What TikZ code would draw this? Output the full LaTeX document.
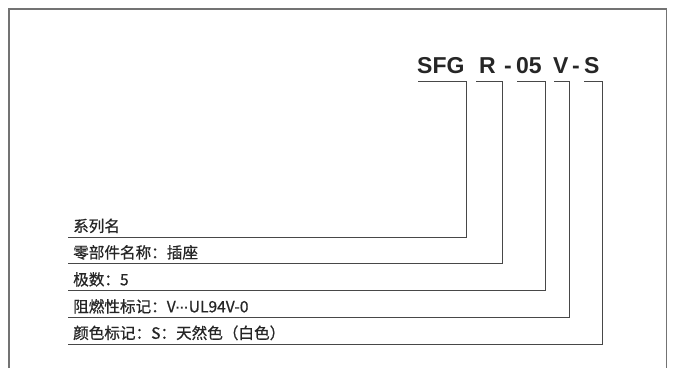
\documentclass[tikz,border=0pt]{standalone}
\usepackage{fontspec}
\setmainfont{Liberation Sans}
\newfontfamily\cjk[FakeBold=0.7]{Noto Sans CJK SC}
\newcommand\middots{{\fontspec{Liberation Sans}\fontsize{13}{13}\selectfont\textbf{···}}}
\begin{document}
\begin{tikzpicture}[x=1pt,y=-1pt]
\tikzstyle{code}=[font=\fontsize{23}{23}\selectfont\bfseries, anchor=base west, inner sep=0pt, text=black!85]
\tikzstyle{lab}=[font=\cjk\fontsize{15.6}{16}\selectfont, anchor=south west, inner xsep=5pt, inner ysep=3pt, text height=11pt, text depth=2pt, text=black!85]
\tikzstyle{lead}=[draw=black!72, line width=0.9pt]
\useasboundingbox (0,0) rectangle (674,368);
\draw[black!55, line width=1.4pt] (9,368) -- (9,9) -- (666.5,9) -- (666.5,368);

% part number
\node[code] (sfg) at (417,73) {SFG};
\node[code] (typ) at (479,73) {R};
\node[code] (dashA) at (504,73) {-};
\node[code] (pol) at (516,73) {05};
\node[code] (flm) at (553,73) {V};
\node[code] (dashB) at (572,73) {-};
\node[code] (col) at (584,73) {S};

% bracket ends
\coordinate (sfgA) at (418,81);  \coordinate (sfgB) at (466,81);
\coordinate (typA) at (476,81);  \coordinate (typB) at (502,81);
\coordinate (polA) at (517,81);  \coordinate (polB) at (545,81);
\coordinate (flmA) at (554,81);  \coordinate (flmB) at (569,81);
\coordinate (colA) at (584,81);  \coordinate (colB) at (602,81);

% labels
\node[lab] (serie) at (68,237) {系列名};
\node[lab] (part) at (68,263.5) {零部件名称：插座};
\node[lab] (pole) at (68,290.5) {极数：5};
\node[lab] (flame) at (68,317.5) {阻燃性标记：V\middots UL94V-0};
\node[lab] (color) at (68,344) {颜色标记：S：天然色（白色）};

\draw[lead] (sfgA) -- (sfgB) |- (serie.south west);
\draw[lead] (typA) -- (typB) |- (part.south west);
\draw[lead] (polA) -- (polB) |- (pole.south west);
\draw[lead] (flmA) -- (flmB) |- (flame.south west);
\draw[lead] (colA) -- (colB) |- (color.south west);
\end{tikzpicture}
\end{document}
